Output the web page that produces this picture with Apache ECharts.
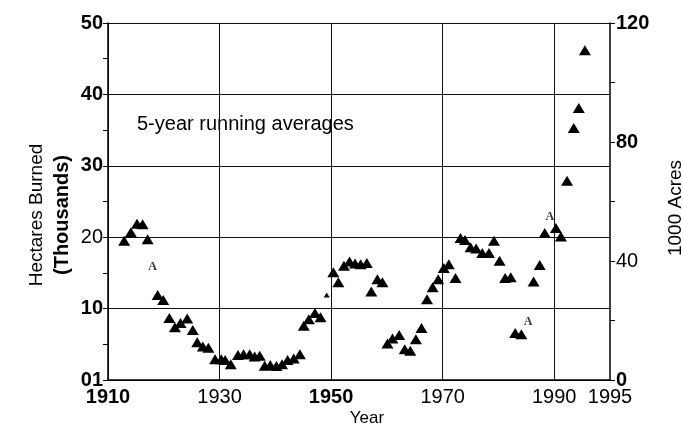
<!DOCTYPE html>
<html>
<head>
<meta charset="utf-8">
<script src="https://cdn.jsdelivr.net/npm/echarts@6/dist/echarts.min.js"></script>
<style>html,body{margin:0;padding:0;background:#fff}#c{width:683px;height:427px}</style>
</head>
<body>
<div id="c"></div>
<script>
// ---- data ----
const years = [1912.9, 1914.1, 1915.2, 1916.2, 1917.1, 1918.9, 1919.9, 1921.0, 1922.0, 1923.0, 1924.2, 1925.2, 1926.0, 1927.0, 1928.0, 1929.2, 1930.3, 1931.0, 1932.0, 1933.3, 1934.3, 1935.4, 1936.3, 1937.2, 1938.1, 1939.1, 1940.2, 1941.2, 1942.2, 1943.3, 1944.4, 1945.1, 1946.0, 1947.1, 1948.1, 1950.4, 1951.3, 1952.3, 1953.3, 1954.3, 1955.3, 1956.4, 1957.2, 1958.3, 1959.2, 1960.1, 1961.0, 1962.2, 1963.2, 1964.2, 1965.2, 1966.2, 1967.2, 1968.2, 1969.2, 1970.2, 1971.1, 1972.3, 1973.2, 1974.0, 1975.0, 1976.0, 1977.1, 1978.3, 1979.2, 1980.2, 1981.2, 1982.2, 1983.0, 1984.1, 1986.3, 1987.4, 1988.3, 1990.3, 1991.2, 1992.3, 1993.5, 1994.4, 1995.5];
const hectares = [19.5, 20.7, 21.9, 21.8, 19.7, 11.9, 11.2, 8.7, 7.4, 8.0, 8.6, 7.0, 5.3, 4.7, 4.5, 2.9, 2.9, 2.8, 2.2, 3.5, 3.6, 3.6, 3.3, 3.4, 2.0, 2.1, 1.95, 2.2, 2.8, 3.0, 3.6, 7.6, 8.5, 9.4, 8.8, 15.1, 13.7, 16.0, 16.6, 16.3, 16.2, 16.4, 12.4, 14.1, 13.7, 5.1, 5.8, 6.3, 4.3, 4.1, 5.7, 7.3, 11.3, 13.0, 14.1, 15.7, 16.2, 14.3, 19.9, 19.6, 18.6, 18.4, 17.8, 17.8, 19.5, 16.7, 14.3, 14.4, 6.6, 6.4, 13.8, 16.1, 20.6, 21.3, 20.1, 27.9, 35.3, 38.1, 46.2];
const smallYears = [1949.2];
const smallHectares = [11.9];
const aYears = [1918.0, 1985.3, 1989.2];
const aHectares = [15.8, 8.1, 22.9];
const xTickValues = [1910, 1930, 1950, 1970, 1990, 2000];
const xTickLabels = ['1910', '1930', '1950', '1970', '1990', '1995'];
const leftTickLabels = ['01', '10', '20', '30', '40', '50'];
const rightTickLabels = ['0', '40', '80', '120'];

// ---- styling ----
const xBold = [true, false, true, false, false, false];
const leftBold = [true, true, false, true, true, true];
const rightBold = [true, false, true, true];
const FONT = 'Liberation Sans, Arial, sans-serif';
const rich = {
  b: {fontFamily: FONT, fontSize: 20, fontWeight: 'bold', color: '#000'},
  n: {fontFamily: FONT, fontSize: 20, fontWeight: 'normal', color: '#000'}
};

const zip = (a, b) => a.map((v, i) => [v, b[i]]);

const chart = echarts.init(document.getElementById('c'), null, {renderer: 'canvas'});
chart.setOption({
  animation: false,
  backgroundColor: '#fff',
  grid: {left: 108, right: 73, top: 23, bottom: 47, containLabel: false},
  xAxis: {
    type: 'value', min: 1910, max: 2000,
    axisLine: {show: true, lineStyle: {color: '#000', width: 1.5}},
    axisTick: {show: false, customValues: xTickValues.slice(0, 5)},
    splitLine: {show: true, lineStyle: {color: '#111', width: 1}},
    axisLabel: {
      customValues: xTickValues, margin: 7,
      formatter: v => {
        const i = xTickValues.indexOf(v);
        return i < 0 ? '' : '{' + (xBold[i] ? 'b' : 'n') + '|' + xTickLabels[i] + '}';
      },
      rich: rich
    }
  },
  yAxis: [{
    type: 'value', min: 0, max: 50, interval: 10, position: 'left',
    axisLine: {show: true, lineStyle: {color: '#000', width: 1.5}},
    axisTick: {show: true, length: 5, lineStyle: {color: '#000', width: 1}},
    minorTick: {show: true, splitNumber: 2, length: 5, lineStyle: {color: '#000', width: 1}},
    splitLine: {show: true, lineStyle: {color: '#111', width: 1}},
    axisLabel: {
      margin: 5,
      formatter: v => {
        const i = Math.round(v / 10);
        return '{' + (leftBold[i] ? 'b' : 'n') + '|' + leftTickLabels[i] + '}';
      },
      rich: rich
    }
  }, {
    type: 'value', min: 0, max: 120, interval: 40, position: 'right',
    axisLine: {show: true, lineStyle: {color: '#000', width: 1.5}},
    axisTick: {show: true, length: 5, lineStyle: {color: '#000', width: 1}},
    minorTick: {show: true, splitNumber: 2, length: 5, lineStyle: {color: '#000', width: 1}},
    splitLine: {show: false},
    axisLabel: {
      margin: 6,
      formatter: v => {
        const i = Math.round(v / 40);
        return '{' + (rightBold[i] ? 'b' : 'n') + '|' + rightTickLabels[i] + '}';
      },
      rich: rich
    }
  }],
  series: [{
    type: 'scatter', yAxisIndex: 0,
    data: zip(years, hectares),
    symbol: 'triangle', symbolSize: [12, 10],
    itemStyle: {color: '#000', opacity: 1}
  }, {
    type: 'scatter', yAxisIndex: 0,
    data: zip(smallYears, smallHectares),
    symbol: 'triangle', symbolSize: [6, 5],
    itemStyle: {color: '#000', opacity: 1}
  }, {
    type: 'scatter', yAxisIndex: 0,
    data: zip(aYears, aHectares),
    symbol: 'circle', symbolSize: 1,
    itemStyle: {color: 'rgba(0,0,0,0)'},
    label: {show: true, position: 'inside', formatter: 'A',
      fontFamily: 'Liberation Serif, Times New Roman, serif', fontWeight: 'bold', fontSize: 12, color: '#000'}
  }],
  graphic: [
    {type: 'text', x: 37, y: 215, rotation: Math.PI / 2,
      style: {text: 'Hectares Burned', font: 'normal 19px ' + FONT, fill: '#000', align: 'center', verticalAlign: 'middle'}},
    {type: 'text', x: 62, y: 215, rotation: Math.PI / 2,
      style: {text: '(Thousands)', font: 'bold 20px ' + FONT, fill: '#000', align: 'center', verticalAlign: 'middle'}},
    {type: 'text', x: 676, y: 208, rotation: Math.PI / 2,
      style: {text: '1000 Acres', font: 'normal 19px ' + FONT, fill: '#000', align: 'center', verticalAlign: 'middle'}},
    {type: 'text', x: 367, y: 418,
      style: {text: 'Year', font: 'normal 17px ' + FONT, fill: '#000', align: 'center', verticalAlign: 'middle'}},
    {type: 'text', x: 137, y: 124,
      style: {text: '5-year running averages', font: 'normal 20px ' + FONT, fill: '#000', align: 'left', verticalAlign: 'middle'}}
  ]
});
</script>
</body>
</html>
